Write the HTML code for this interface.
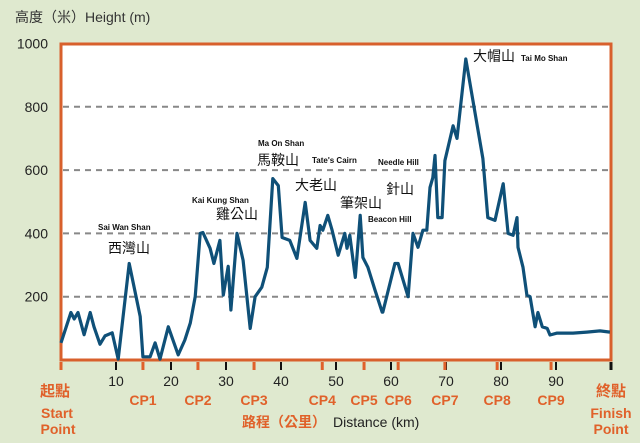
<!DOCTYPE html>
<html><head><meta charset="utf-8"><style>
html,body{margin:0;padding:0;background:#dfe9cf;}
svg{display:block;font-family:"Liberation Sans","Noto Sans CJK TC",sans-serif;}
</style></head><body>
<svg id="c" width="640" height="443" viewBox="0 0 640 443">
<rect x="0" y="0" width="640" height="443" fill="#dfe9cf"/>
<text x="15" y="22" font-size="14" fill="#333">高度（米）Height (m)</text>
<rect x="61" y="44" width="550" height="316" fill="#fff" stroke="#d8602c" stroke-width="3"/>
<g id="grid"></g><g id="yt"></g><g id="xt"></g><g id="cp"></g>
<path id="line" fill="none" stroke="#0f5078" stroke-width="3.2" stroke-linejoin="round"/>
<g font-size="8" font-weight="bold" fill="#111">
<text x="98" y="230">Sai Wan Shan</text>
<text x="108" y="253" font-size="14" font-weight="normal">西灣山</text>
<text x="192" y="203">Kai Kung Shan</text>
<text x="216" y="219" font-size="14" font-weight="normal">雞公山</text>
<text x="258" y="146">Ma On Shan</text>
<text x="257" y="165" font-size="14" font-weight="normal">馬鞍山</text>
<text x="312" y="163">Tate's Cairn</text>
<text x="295" y="190" font-size="14" font-weight="normal">大老山</text>
<text x="340" y="208" font-size="14" font-weight="normal">筆架山</text>
<text x="368" y="222">Beacon Hill</text>
<text x="378" y="165">Needle Hill</text>
<text x="386" y="194" font-size="14" font-weight="normal">針山</text>
<text x="473" y="61" font-size="14" font-weight="normal">大帽山</text>
<text x="521" y="61">Tai Mo Shan</text>
</g>
<g fill="#e0612a" font-weight="bold" font-size="14" text-anchor="middle">
<text x="55" y="396" font-size="15">起點</text>
<text x="57" y="418">Start</text>
<text x="58" y="434">Point</text>
<text x="611" y="396" font-size="15">終點</text>
<text x="611" y="418">Finish</text>
<text x="611" y="434">Point</text>
</g>
<text x="242" y="427" font-size="14" fill="#e0612a" font-weight="bold">路程（公里）</text>
<text x="333" y="427" font-size="14" fill="#222">Distance (km)</text>
</svg>
<script>
const dist=[0,1.8,2.4,3.1,4.2,5.3,6.0,7.1,8.0,9.3,10.4,12.4,14.4,14.9,16.2,17.1,18.0,19.5,21.3,22.5,23.5,24.4,25.3,25.8,27.1,27.8,28.9,29.5,30.4,30.9,32.0,33.1,34.4,35.3,36.5,37.5,38.5,39.5,40.2,41.6,42.9,44.4,45.3,46.5,47.1,47.6,48.5,49.3,50.4,51.6,52.0,52.5,53.5,54.4,54.9,55.8,57.1,58.4,58.5,60.7,61.3,63.1,64.0,64.9,65.8,66.5,67.1,67.6,68.0,68.5,69.3,69.8,71.3,72.0,73.6,76.7,77.6,78.9,80.4,81.3,82.2,82.9,83.1,84.0,84.7,85.3,86.2,86.7,87.5,88.4,88.9,90.2,93.1,95.6,98.0,99.8];
const elev=[54,150,130,150,80,150,105,50,76,86,3,305,137,10,10,54,3,105,16,63,117,200,400,403,353,305,378,205,296,158,400,315,100,200,230,293,573,551,387,378,321,498,378,353,425,410,457,410,331,400,353,394,261,457,324,293,220,151,151,305,305,200,400,356,410,410,545,576,646,450,450,630,740,700,951,636,450,441,557,400,394,450,356,293,205,200,105,150,105,100,79,85,85,88,92,88];
const yTicks=[200,400,600,800,1000];
const xTicks=[10,20,30,40,50,60,70,80,90];
const cpLabels=["CP1","CP2","CP3","CP4","CP5","CP6","CP7","CP8","CP9"];
const cpKm=[14.9,24.9,35.1,47.5,55.1,61.3,69.8,79.3,89.1];
const X=k=>61+k*5.5, Y=v=>360-v*0.3165;
const NS="http://www.w3.org/2000/svg";
function mk(t,a,p){const e=document.createElementNS(NS,t);for(const k in a)e.setAttribute(k,a[k]);p.appendChild(e);return e;}
const grid=document.getElementById('grid'),yt=document.getElementById('yt'),xt=document.getElementById('xt'),cp=document.getElementById('cp');
yTicks.forEach(v=>{
 if(v<1000){const l=mk('line',{x1:63,x2:609,y1:Y(v),y2:Y(v),stroke:'#888','stroke-width':2,'stroke-dasharray':'6 5'},grid);
 
 }
 const t=mk('text',{x:48,y:Y(v)+5,'font-size':14,fill:'#222','text-anchor':'end'},yt);t.textContent=v;
 
 
});
xTicks.forEach(k=>{
 const l=mk('line',{x1:X(k),x2:X(k),y1:362,y2:370,stroke:'#111','stroke-width':2},xt);
 
 
 const t=mk('text',{x:X(k),y:386,'font-size':14,fill:'#222','text-anchor':'middle'},xt);t.textContent=k;
 
 
});
[0,100].forEach(k=>{const l=mk('line',{x1:X(k),x2:X(k),y1:362,y2:370,stroke:k?'#111':'#e0612a','stroke-width':3},xt);
 
 });
cpLabels.forEach((c,i)=>{
 const l=mk('line',{x1:X(cpKm[i]),x2:X(cpKm[i]),y1:362,y2:370,stroke:'#e0612a','stroke-width':3},cp);
 
 
 const t=mk('text',{x:X(cpKm[i]),y:405,'font-size':14,'font-weight':'bold',fill:'#e0612a','text-anchor':'middle'},cp);t.textContent=c;
 
 
});
document.getElementById('line').setAttribute('d',dist.map((k,i)=>(i?'L':'M')+X(k).toFixed(1)+' '+Y(elev[i]).toFixed(1)).join(' '));
</script>
</body></html>
